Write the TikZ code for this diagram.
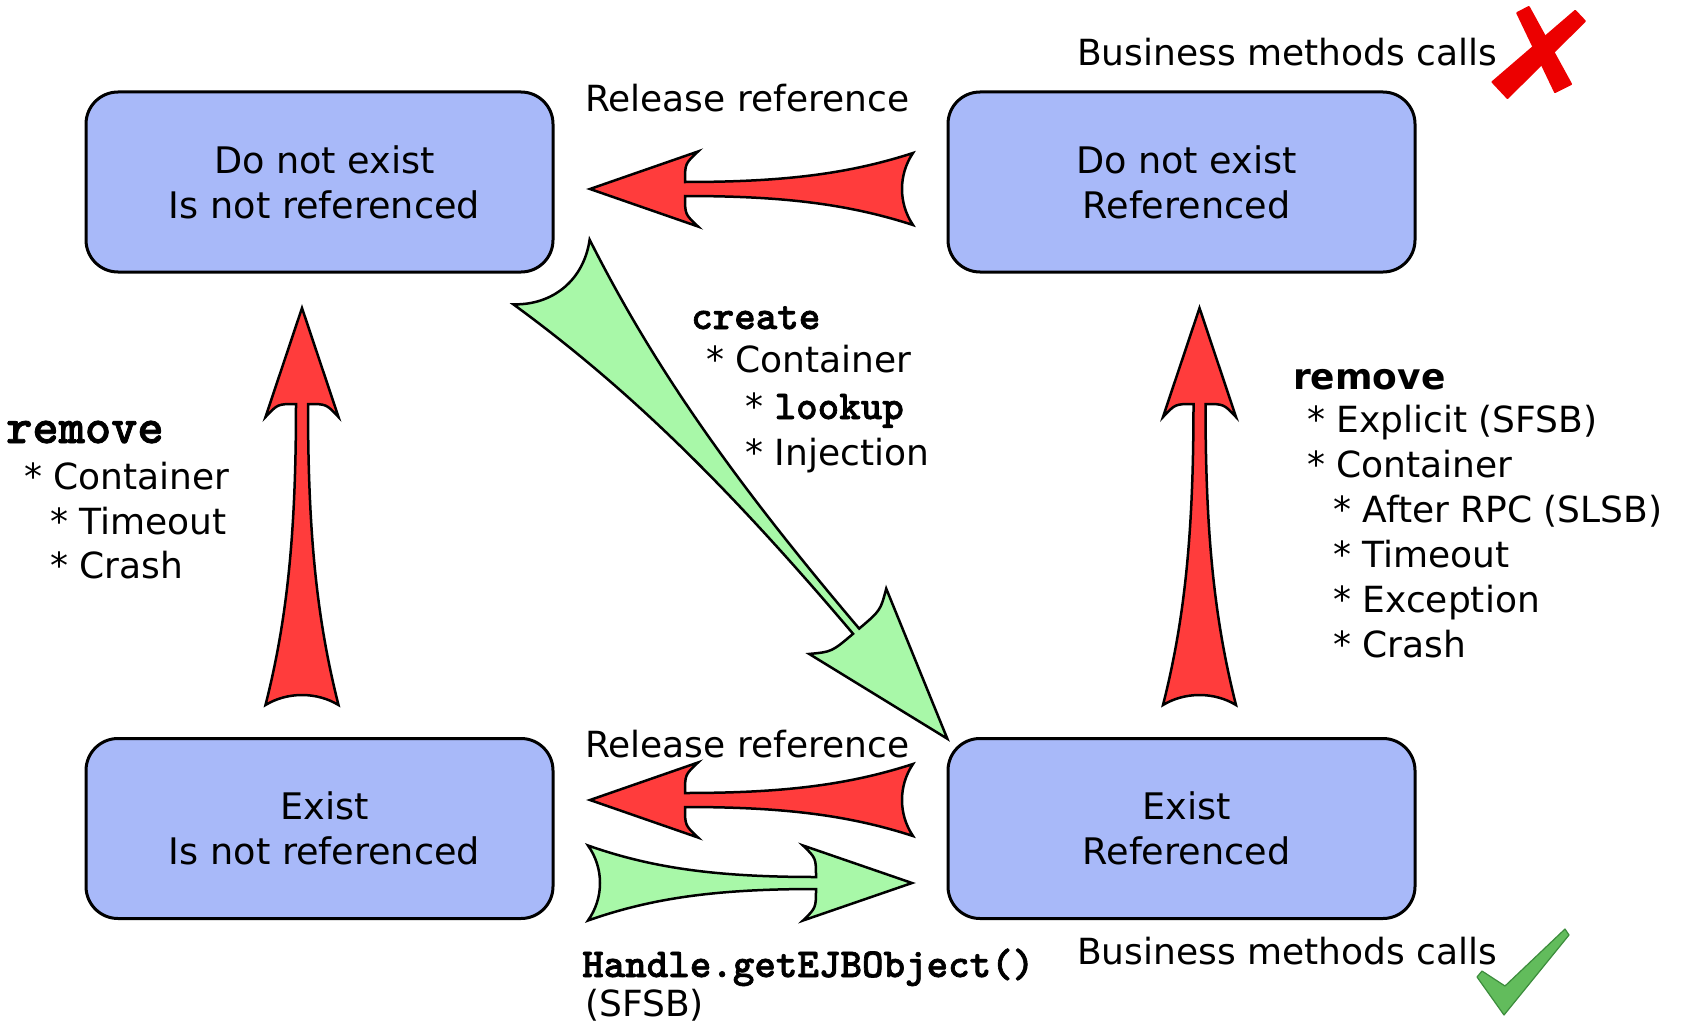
\documentclass[tikz,border=0pt]{standalone}
\usepackage{fontspec}
\setmainfont{DejaVu Sans}
\newfontfamily\courb{lmmonolt10-bold.otf}[FakeBold=1.6]
\definecolor{boxblue}{RGB}{168,185,249}
\definecolor{arrowred}{RGB}{255,60,60}
\definecolor{arrowgreen}{RGB}{168,248,168}
\definecolor{xred}{RGB}{236,0,0}
\definecolor{checkgreen}{RGB}{98,188,92}
\definecolor{checkdark}{RGB}{60,140,60}
% #1 tail coord, #2 angle, #3 length, #4 head length, #5 head half-width,
% #6 neck half-width, #7 tail half-width, #8 tail concavity, #9 style
\newcommand\FArrow[9]{%
 \begin{scope}[shift={(#1)},rotate=#2]
  \path[#9] (0,#7)
   .. controls ({#8*4/3},{#7*0.4}) and ({#8*4/3},{-#7*0.4}) .. (0,-#7)
   .. controls ({(#3-#4)*0.3},{-(#6+(#7-#6)*0.28)}) and ({(#3-#4)*0.6},-#6) .. ({#3-#4+13},-#6)
   .. controls ({#3-#4+13},{-(#6+(#5-#6)*0.6)}) .. ({#3-#4},-#5)
   -- (#3,0) -- ({#3-#4},#5)
   .. controls ({#3-#4+13},{#6+(#5-#6)*0.6}) .. ({#3-#4+13},#6)
   .. controls ({(#3-#4)*0.6},#6) and ({(#3-#4)*0.3},{#6+(#7-#6)*0.28}) .. (0,#7)
   -- cycle;
 \end{scope}}
\begin{document}
\begin{tikzpicture}[x=1pt,y=-1pt,
  box/.style={draw=black, line width=3pt, fill=boxblue, rounded corners=32pt,
    minimum width=467pt, minimum height=180pt, inner sep=0pt},
  boxtext/.style={align=center, inner sep=0pt, font=\fontsize{36.6}{45}\selectfont},
  lbl/.style={anchor=base west, inner sep=0pt, font=\fontsize{36}{45}\selectfont},
  monolbl/.style={anchor=base west, inner sep=0pt, font=\fontsize{41}{45}\selectfont\courb},
  bigmono/.style={anchor=base west, inner sep=0pt, font=\fontsize{50}{45}\selectfont\courb},
  boldlbl/.style={anchor=base west, inner sep=0pt, font=\fontsize{36}{45}\selectfont\bfseries},
  redarrow/.style={fill=arrowred, draw=black, line width=2.5pt},
  greenarrow/.style={fill=arrowgreen, draw=black, line width=2.5pt}]
\useasboundingbox (0,0) rectangle (1690,1025);
\fill[white] (0,0) rectangle (1690,1025);

% boxes
\node[box] (tl) at (319.5,182) {};
\node[box] (tr) at (1181.5,182) {};
\node[box] (bl) at (319.5,828.5) {};
\node[box] (br) at (1181.5,828.5) {};
\node[boxtext] (tlt) at ([xshift=5pt]tl.center) {Do not exist\\Is not referenced};
\node[boxtext] (trt) at ([xshift=5pt]tr.center) {Do not exist\\Referenced};
\node[boxtext] (blt) at ([xshift=5pt]bl.center) {Exist\\Is not referenced};
\node[boxtext] (brt) at ([xshift=5pt]br.center) {Exist\\Referenced};

% arrow tails
\coordinate (a1) at (913,189);
\coordinate (a2) at (913,800);
\coordinate (a3) at (588,883);
\coordinate (a4) at (302,705);
\coordinate (a5) at (1199.5,705);
\coordinate (a6) at (551.5,272);

\FArrow{a1}{180}{323}{108}{37.5}{7}{36}{11}{redarrow}
\FArrow{a2}{180}{323}{108}{37.5}{7}{36}{11}{redarrow}
\FArrow{a3}{0}{324}{109}{37.5}{6}{37.5}{12}{greenarrow}
\FArrow{a4}{90}{397}{109}{36.5}{6}{36.5}{10}{redarrow}
\FArrow{a5}{90}{397}{109}{36.5}{6}{36.5}{10}{redarrow}
\FArrow{a6}{-49.7}{612}{154}{50.5}{4}{50}{20}{greenarrow}

% top labels
\node[lbl] (rel1) at (585,111) {Release reference};
\node[lbl] (bmc1) at (1077,66) {Business methods calls};

% create block
\node[monolbl] (cr0) at (691,329) {create};
\node[lbl] (cr1) at (706,372) {* Container};
\node[lbl] (cr2) at (745,419) {* {\fontsize{41}{45}\selectfont\courb lookup}};
\node[lbl] (cr3) at (745,465) {* Injection};

% left remove
\node[bigmono] (lr0) at (6,443) {remove};
\node[lbl] (lr1) at (24,489) {* Container};
\node[lbl] (lr2) at (50,534) {* Timeout};
\node[lbl] (lr3) at (50,578) {* Crash};

% right remove
\node[boldlbl] (rr0) at (1293,389) {remove};
\node[lbl] (rr1) at (1307,432) {* Explicit (SFSB)};
\node[lbl] (rr2) at (1307,477) {* Container};
\node[lbl] (rr3) at (1333,522) {* After RPC (SLSB)};
\node[lbl] (rr4) at (1333,567) {* Timeout};
\node[lbl] (rr5) at (1333,612) {* Exception};
\node[lbl] (rr6) at (1333,657) {* Crash};

% bottom labels
\node[lbl] (rel2) at (585,757) {Release reference};
\node[monolbl] (hdl) at (582,977) {Handle.getEJBObject()};
\node[lbl] (sfsb) at (585,1016) {(SFSB)};
\node[lbl] (bmc2) at (1077,964) {Business methods calls};

% red cross
\filldraw[xred, line width=2pt, line join=round]
  (1528.8,7) -- (1517.2,13) -- (1555,92) -- (1571,84) -- cycle;
\filldraw[xred, line width=2pt, line join=round]
  (1584.8,21.1) -- (1575.2,10.9) -- (1492.5,82) -- (1507.5,98) -- cycle;

% green check
\filldraw[fill=checkgreen, draw=checkdark, line width=1.2pt, line join=round]
  (1477,977) -- (1482,971) -- (1505,986) -- (1565,929) -- (1569,935) -- (1504,1015) -- cycle;
\end{tikzpicture}
\end{document}
